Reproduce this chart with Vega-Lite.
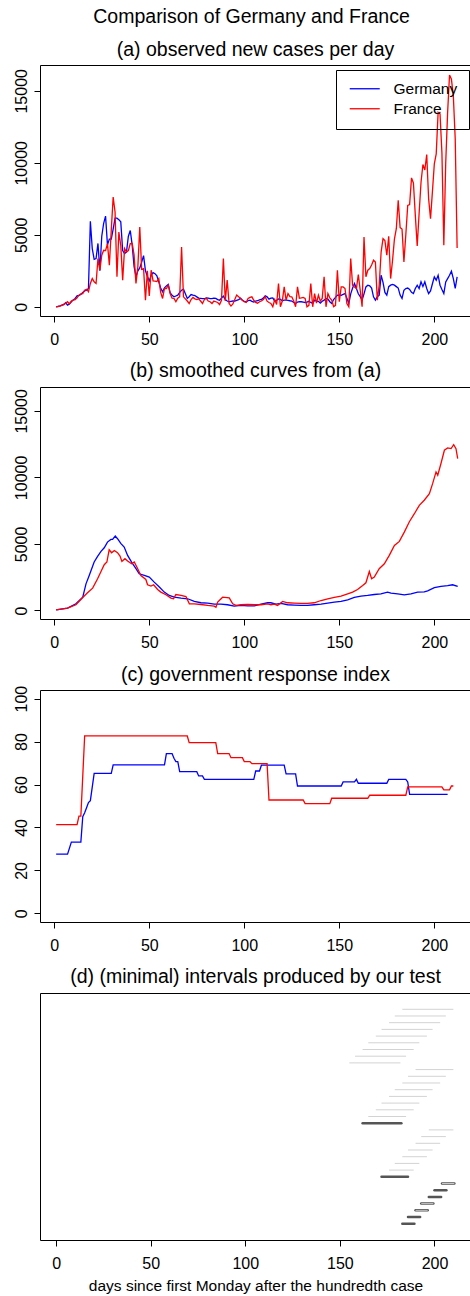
{
"$schema":"https://vega.github.io/schema/vega-lite/v6.json",
"padding":{"left":12,"top":6,"right":0,"bottom":0},
"title":{"text":"Comparison of Germany and France","anchor":"middle","frame":"group","offset":12,"dx":-4},
"bounds":"flush",
"spacing":71,
"config":{
 "font":"Liberation Sans",
 "view":{"stroke":"black","strokeWidth":1},
 "axis":{"domain":false,"grid":false,"tickColor":"black","tickSize":6,"tickWidth":1,"labelColor":"black","labelFontSize":16,"labelFont":"Liberation Sans","labelFlush":false,"labelOverlap":false,"titleFont":"Liberation Sans","titleFontWeight":"normal","titleColor":"black"},
 "axisY":{"labelAngle":-90,"labelAlign":"center","labelBaseline":"bottom","labelPadding":5},
 "axisX":{"labelPadding":9},
 "title":{"font":"Liberation Sans","fontSize":19.5,"fontWeight":"normal","color":"black","baseline":"alphabetic","offset":6,"frame":"group"},
 "line":{"strokeWidth":1.3}
},
"datasets":{
"g1":[{"d":1,"v":0},{"d":2,"v":30},{"d":3,"v":60},{"d":4,"v":120},{"d":5,"v":160},{"d":6,"v":280},{"d":7,"v":120},{"d":8,"v":200},{"d":9,"v":350},{"d":10,"v":480},{"d":11,"v":580},{"d":12,"v":760},{"d":13,"v":800},{"d":14,"v":850},{"d":15,"v":1000},{"d":16,"v":1100},{"d":17,"v":1150},{"d":18,"v":1270},{"d":19,"v":5930},{"d":20,"v":4040},{"d":21,"v":3300},{"d":22,"v":3350},{"d":23,"v":4400},{"d":24,"v":2500},{"d":25,"v":4900},{"d":26,"v":5800},{"d":27,"v":6300},{"d":28,"v":4300},{"d":29,"v":4700},{"d":30,"v":4700},{"d":31,"v":5400},{"d":32,"v":6150},{"d":33,"v":6150},{"d":34,"v":6050},{"d":35,"v":5900},{"d":36,"v":3900},{"d":37,"v":3700},{"d":38,"v":3800},{"d":39,"v":4900},{"d":40,"v":5300},{"d":41,"v":4300},{"d":42,"v":2800},{"d":43,"v":2100},{"d":44,"v":2500},{"d":45,"v":2700},{"d":46,"v":3100},{"d":47,"v":3550},{"d":48,"v":2500},{"d":49,"v":2100},{"d":50,"v":1800},{"d":51,"v":2200},{"d":52,"v":2380},{"d":53,"v":2300},{"d":54,"v":2150},{"d":55,"v":1730},{"d":56,"v":1300},{"d":57,"v":1040},{"d":58,"v":1320},{"d":59,"v":1450},{"d":60,"v":1550},{"d":61,"v":970},{"d":62,"v":800},{"d":63,"v":690},{"d":64,"v":750},{"d":65,"v":810},{"d":66,"v":1000},{"d":67,"v":1150},{"d":68,"v":1220},{"d":69,"v":900},{"d":70,"v":580},{"d":71,"v":700},{"d":72,"v":850},{"d":73,"v":810},{"d":74,"v":780},{"d":75,"v":690},{"d":76,"v":600},{"d":77,"v":580},{"d":78,"v":560},{"d":79,"v":560},{"d":80,"v":620},{"d":81,"v":600},{"d":82,"v":560},{"d":83,"v":560},{"d":84,"v":600},{"d":85,"v":580},{"d":86,"v":500},{"d":87,"v":460},{"d":88,"v":600},{"d":89,"v":740},{"d":90,"v":500},{"d":91,"v":400},{"d":92,"v":350},{"d":93,"v":380},{"d":94,"v":400},{"d":95,"v":390},{"d":96,"v":450},{"d":97,"v":500},{"d":98,"v":580},{"d":99,"v":450},{"d":100,"v":380},{"d":101,"v":350},{"d":102,"v":420},{"d":103,"v":460},{"d":104,"v":380},{"d":105,"v":330},{"d":106,"v":400},{"d":107,"v":420},{"d":108,"v":480},{"d":109,"v":510},{"d":110,"v":600},{"d":111,"v":760},{"d":112,"v":690},{"d":113,"v":530},{"d":114,"v":600},{"d":115,"v":620},{"d":116,"v":390},{"d":117,"v":450},{"d":118,"v":550},{"d":119,"v":520},{"d":120,"v":420},{"d":121,"v":460},{"d":122,"v":460},{"d":123,"v":450},{"d":124,"v":420},{"d":125,"v":400},{"d":126,"v":300},{"d":127,"v":230},{"d":128,"v":330},{"d":129,"v":360},{"d":130,"v":350},{"d":131,"v":330},{"d":132,"v":300},{"d":133,"v":330},{"d":134,"v":380},{"d":135,"v":300},{"d":136,"v":240},{"d":137,"v":460},{"d":138,"v":400},{"d":139,"v":380},{"d":140,"v":250},{"d":141,"v":380},{"d":142,"v":460},{"d":143,"v":580},{"d":144,"v":530},{"d":145,"v":350},{"d":146,"v":230},{"d":147,"v":500},{"d":148,"v":650},{"d":149,"v":810},{"d":150,"v":800},{"d":151,"v":800},{"d":152,"v":860},{"d":153,"v":920},{"d":154,"v":600},{"d":155,"v":230},{"d":156,"v":900},{"d":157,"v":1300},{"d":158,"v":1620},{"d":159,"v":1270},{"d":160,"v":900},{"d":161,"v":700},{"d":162,"v":460},{"d":163,"v":900},{"d":164,"v":1380},{"d":165,"v":1500},{"d":166,"v":1450},{"d":167,"v":1300},{"d":168,"v":690},{"d":169,"v":460},{"d":170,"v":700},{"d":171,"v":800},{"d":172,"v":2190},{"d":173,"v":1700},{"d":174,"v":1000},{"d":175,"v":810},{"d":176,"v":1400},{"d":177,"v":1500},{"d":178,"v":1550},{"d":179,"v":1500},{"d":180,"v":1400},{"d":181,"v":1300},{"d":182,"v":810},{"d":183,"v":580},{"d":184,"v":1150},{"d":185,"v":1270},{"d":186,"v":1300},{"d":187,"v":1200},{"d":188,"v":1000},{"d":189,"v":920},{"d":190,"v":1270},{"d":191,"v":1500},{"d":192,"v":1270},{"d":193,"v":1730},{"d":194,"v":1400},{"d":195,"v":1730},{"d":196,"v":1270},{"d":197,"v":920},{"d":198,"v":1100},{"d":199,"v":1600},{"d":200,"v":2080},{"d":201,"v":1850},{"d":202,"v":2190},{"d":203,"v":1500},{"d":204,"v":1200},{"d":205,"v":920},{"d":206,"v":1730},{"d":207,"v":1960},{"d":208,"v":2190},{"d":209,"v":2470},{"d":210,"v":1960},{"d":211,"v":1270},{"d":212,"v":2080}],
"f1":[{"d":1,"v":0},{"d":2,"v":20},{"d":3,"v":50},{"d":4,"v":100},{"d":5,"v":150},{"d":6,"v":250},{"d":7,"v":350},{"d":8,"v":200},{"d":9,"v":400},{"d":10,"v":460},{"d":11,"v":500},{"d":12,"v":620},{"d":13,"v":810},{"d":14,"v":900},{"d":15,"v":920},{"d":16,"v":1150},{"d":17,"v":1220},{"d":18,"v":1040},{"d":19,"v":1620},{"d":20,"v":1960},{"d":21,"v":1730},{"d":22,"v":1620},{"d":23,"v":3350},{"d":24,"v":2540},{"d":25,"v":3580},{"d":26,"v":3920},{"d":27,"v":3900},{"d":28,"v":4390},{"d":29,"v":2890},{"d":30,"v":5310},{"d":31,"v":7620},{"d":32,"v":6580},{"d":33,"v":2080},{"d":34,"v":5190},{"d":35,"v":4270},{"d":36,"v":1850},{"d":37,"v":4040},{"d":38,"v":3800},{"d":39,"v":3900},{"d":40,"v":4390},{"d":41,"v":4400},{"d":42,"v":3600},{"d":43,"v":1620},{"d":44,"v":2800},{"d":45,"v":5540},{"d":46,"v":2600},{"d":47,"v":2650},{"d":48,"v":460},{"d":49,"v":2500},{"d":50,"v":750},{"d":51,"v":2540},{"d":52,"v":1800},{"d":53,"v":1780},{"d":54,"v":1750},{"d":55,"v":1960},{"d":56,"v":1000},{"d":57,"v":580},{"d":58,"v":1270},{"d":59,"v":1270},{"d":60,"v":1500},{"d":61,"v":900},{"d":62,"v":600},{"d":63,"v":580},{"d":64,"v":350},{"d":65,"v":600},{"d":66,"v":700},{"d":67,"v":4150},{"d":68,"v":690},{"d":69,"v":550},{"d":70,"v":400},{"d":71,"v":230},{"d":72,"v":500},{"d":73,"v":650},{"d":74,"v":550},{"d":75,"v":500},{"d":76,"v":550},{"d":77,"v":400},{"d":78,"v":230},{"d":79,"v":500},{"d":80,"v":600},{"d":81,"v":400},{"d":82,"v":350},{"d":83,"v":230},{"d":84,"v":400},{"d":85,"v":350},{"d":86,"v":300},{"d":87,"v":160},{"d":88,"v":450},{"d":89,"v":3350},{"d":90,"v":400},{"d":91,"v":1850},{"d":92,"v":230},{"d":93,"v":50},{"d":94,"v":200},{"d":95,"v":500},{"d":96,"v":810},{"d":97,"v":690},{"d":98,"v":600},{"d":99,"v":450},{"d":100,"v":350},{"d":101,"v":300},{"d":102,"v":580},{"d":103,"v":650},{"d":104,"v":690},{"d":105,"v":450},{"d":106,"v":300},{"d":107,"v":250},{"d":108,"v":350},{"d":109,"v":400},{"d":110,"v":500},{"d":111,"v":700},{"d":112,"v":390},{"d":113,"v":300},{"d":114,"v":230},{"d":115,"v":0},{"d":116,"v":500},{"d":117,"v":160},{"d":118,"v":1620},{"d":119,"v":0},{"d":120,"v":400},{"d":121,"v":1380},{"d":122,"v":460},{"d":123,"v":920},{"d":124,"v":700},{"d":125,"v":690},{"d":126,"v":400},{"d":127,"v":0},{"d":128,"v":1380},{"d":129,"v":600},{"d":130,"v":620},{"d":131,"v":650},{"d":132,"v":580},{"d":133,"v":0},{"d":134,"v":100},{"d":135,"v":1620},{"d":136,"v":0},{"d":137,"v":920},{"d":138,"v":250},{"d":139,"v":810},{"d":140,"v":400},{"d":141,"v":580},{"d":142,"v":2080},{"d":143,"v":0},{"d":144,"v":920},{"d":145,"v":620},{"d":146,"v":460},{"d":147,"v":0},{"d":148,"v":100},{"d":149,"v":2540},{"d":150,"v":350},{"d":151,"v":1380},{"d":152,"v":1380},{"d":153,"v":1270},{"d":154,"v":230},{"d":155,"v":0},{"d":156,"v":3350},{"d":157,"v":1500},{"d":158,"v":1380},{"d":159,"v":1270},{"d":160,"v":2240},{"d":161,"v":1150},{"d":162,"v":0},{"d":163,"v":4850},{"d":164,"v":2080},{"d":165,"v":2540},{"d":166,"v":2650},{"d":167,"v":2900},{"d":168,"v":3230},{"d":169,"v":3100},{"d":170,"v":460},{"d":171,"v":1500},{"d":172,"v":3800},{"d":173,"v":4730},{"d":174,"v":4600},{"d":175,"v":3580},{"d":176,"v":4890},{"d":177,"v":1960},{"d":178,"v":3200},{"d":179,"v":4700},{"d":180,"v":5420},{"d":181,"v":7390},{"d":182,"v":5500},{"d":183,"v":5400},{"d":184,"v":3120},{"d":185,"v":5000},{"d":186,"v":7040},{"d":187,"v":7100},{"d":188,"v":8950},{"d":189,"v":8600},{"d":190,"v":6350},{"d":191,"v":4220},{"d":192,"v":6500},{"d":193,"v":8650},{"d":194,"v":9880},{"d":195,"v":9500},{"d":196,"v":10570},{"d":197,"v":7500},{"d":198,"v":6120},{"d":199,"v":8000},{"d":200,"v":9920},{"d":201,"v":10620},{"d":202,"v":13500},{"d":203,"v":13400},{"d":204,"v":10700},{"d":205,"v":4270},{"d":206,"v":10000},{"d":207,"v":13500},{"d":208,"v":16090},{"d":209,"v":15810},{"d":210,"v":14650},{"d":211,"v":11660},{"d":212,"v":4080}],
"g2":[{"d":1,"v":50},{"d":7,"v":175},{"d":11.4,"v":500},{"d":15,"v":1000},{"d":16.7,"v":2000},{"d":18.4,"v":2630},{"d":21,"v":3640},{"d":22.8,"v":4060},{"d":24.6,"v":4440},{"d":26.3,"v":4710},{"d":28,"v":5140},{"d":29.8,"v":5340},{"d":30.7,"v":5340},{"d":32.1,"v":5590},{"d":33.3,"v":5390},{"d":35.1,"v":5020},{"d":36.8,"v":4770},{"d":38.6,"v":4140},{"d":40.7,"v":3640},{"d":43,"v":3140},{"d":44.7,"v":2760},{"d":47.4,"v":2630},{"d":50,"v":2510},{"d":52.6,"v":2130},{"d":55.3,"v":1760},{"d":57.9,"v":1380},{"d":60.5,"v":1130},{"d":63.2,"v":1000},{"d":66.7,"v":930},{"d":70.2,"v":880},{"d":73.7,"v":680},{"d":77.2,"v":580},{"d":80.7,"v":550},{"d":84.2,"v":480},{"d":87.7,"v":480},{"d":91.2,"v":430},{"d":94.7,"v":330},{"d":98.2,"v":380},{"d":101.8,"v":350},{"d":105.3,"v":350},{"d":108.8,"v":480},{"d":112.3,"v":580},{"d":114,"v":580},{"d":116.7,"v":480},{"d":119.3,"v":530},{"d":122.8,"v":430},{"d":126.3,"v":400},{"d":129.8,"v":380},{"d":133.3,"v":380},{"d":136.8,"v":430},{"d":140.4,"v":480},{"d":143.9,"v":550},{"d":147.4,"v":630},{"d":150.9,"v":680},{"d":154.4,"v":800},{"d":157.9,"v":980},{"d":161.4,"v":1080},{"d":164.9,"v":1130},{"d":168.4,"v":1200},{"d":171.9,"v":1250},{"d":175.4,"v":1380},{"d":177.2,"v":1300},{"d":180.7,"v":1250},{"d":184.2,"v":1180},{"d":187.7,"v":1250},{"d":191.2,"v":1380},{"d":194.7,"v":1400},{"d":196.5,"v":1480},{"d":200,"v":1710},{"d":203.5,"v":1810},{"d":207,"v":1860},{"d":209.6,"v":1930},{"d":212.3,"v":1810}],
"f2":[{"d":1,"v":50},{"d":7,"v":175},{"d":11.4,"v":430},{"d":15,"v":980},{"d":17.5,"v":1330},{"d":20.2,"v":1680},{"d":22.8,"v":2380},{"d":24.6,"v":2930},{"d":26.3,"v":3440},{"d":27.7,"v":3640},{"d":28.9,"v":4560},{"d":30.2,"v":4340},{"d":31.6,"v":4510},{"d":33.3,"v":4340},{"d":34.6,"v":4090},{"d":35.6,"v":3690},{"d":37.2,"v":3890},{"d":38.6,"v":3710},{"d":40.7,"v":3510},{"d":42.1,"v":3640},{"d":43.9,"v":3140},{"d":45.6,"v":2630},{"d":48.2,"v":2330},{"d":49.1,"v":1930},{"d":50.9,"v":1830},{"d":52.3,"v":1930},{"d":54.4,"v":1580},{"d":56.1,"v":1380},{"d":58.8,"v":1180},{"d":61.4,"v":930},{"d":62.8,"v":880},{"d":64,"v":1200},{"d":66.7,"v":1130},{"d":69.3,"v":1050},{"d":71.1,"v":500},{"d":73.7,"v":500},{"d":77.2,"v":450},{"d":80.7,"v":380},{"d":84.2,"v":330},{"d":85.1,"v":250},{"d":86,"v":630},{"d":88.6,"v":1000},{"d":92.1,"v":950},{"d":93.9,"v":500},{"d":95.6,"v":380},{"d":98.2,"v":430},{"d":101.8,"v":450},{"d":105.3,"v":430},{"d":108.8,"v":430},{"d":112.3,"v":500},{"d":114,"v":430},{"d":115.8,"v":480},{"d":117.5,"v":380},{"d":120.2,"v":680},{"d":122.8,"v":580},{"d":126.3,"v":550},{"d":129.8,"v":530},{"d":133.3,"v":530},{"d":136.8,"v":580},{"d":140.4,"v":750},{"d":143.9,"v":880},{"d":147.4,"v":980},{"d":150.9,"v":1080},{"d":154.4,"v":1250},{"d":157,"v":1380},{"d":159.6,"v":1580},{"d":162.3,"v":1880},{"d":164,"v":2080},{"d":165.8,"v":2930},{"d":167,"v":2380},{"d":168.4,"v":2510},{"d":171,"v":3140},{"d":173.7,"v":3510},{"d":176.3,"v":4140},{"d":179,"v":4890},{"d":181.6,"v":5190},{"d":184.2,"v":5890},{"d":186.8,"v":6650},{"d":189.5,"v":7270},{"d":192.1,"v":7900},{"d":194.7,"v":8280},{"d":197.4,"v":8780},{"d":199.1,"v":9530},{"d":200.9,"v":10410},{"d":201.8,"v":10160},{"d":203.5,"v":11040},{"d":205.3,"v":12040},{"d":207,"v":12210},{"d":208.8,"v":12160},{"d":210.2,"v":12460},{"d":211.4,"v":12160},{"d":212.3,"v":11410}],
"g3":[{"d":1,"v":27.6},{"d":7,"v":27.6},{"d":9,"v":33.2},{"d":14,"v":33.2},{"d":15,"v":45},{"d":16,"v":46.9},{"d":17,"v":49.2},{"d":18,"v":51.6},{"d":19,"v":52.5},{"d":21,"v":65.2},{"d":30,"v":65.2},{"d":31,"v":69.1},{"d":58,"v":69.1},{"d":59,"v":74.4},{"d":62,"v":74.4},{"d":63,"v":72.2},{"d":64,"v":70.7},{"d":65,"v":70.7},{"d":66,"v":66},{"d":75,"v":66},{"d":76,"v":64},{"d":78,"v":64},{"d":79,"v":62.4},{"d":105,"v":62.4},{"d":106,"v":66.3},{"d":108,"v":66.3},{"d":109,"v":69},{"d":121,"v":69},{"d":122,"v":65},{"d":127,"v":65},{"d":128,"v":59.3},{"d":151,"v":59.3},{"d":152,"v":61.2},{"d":158,"v":61.2},{"d":159,"v":62.4},{"d":160,"v":60.6},{"d":175,"v":60.6},{"d":176,"v":62.4},{"d":185,"v":62.4},{"d":186,"v":61.2},{"d":187,"v":55.4},{"d":207,"v":55.4}],
"f3":[{"d":1,"v":41.3},{"d":12,"v":41.3},{"d":13,"v":45.3},{"d":14,"v":45.3},{"d":16,"v":82.6},{"d":70,"v":82.6},{"d":71,"v":79.5},{"d":85,"v":79.5},{"d":86,"v":74.4},{"d":92,"v":74.4},{"d":93,"v":72.5},{"d":99,"v":72.5},{"d":100,"v":70.7},{"d":103,"v":70.7},{"d":104,"v":69.7},{"d":112,"v":69.7},{"d":113,"v":52.8},{"d":131,"v":52.8},{"d":132,"v":51.1},{"d":145,"v":51.1},{"d":146,"v":53.6},{"d":165,"v":53.6},{"d":166,"v":55},{"d":185,"v":55},{"d":186,"v":58.9},{"d":204,"v":58.9},{"d":205,"v":57.5},{"d":208,"v":57.5},{"d":209,"v":59.3},{"d":210,"v":59.3}],
"iv":[{"r":1,"a":183,"b":210,"t":"l"},{"r":2,"a":179,"b":206,"t":"l"},{"r":3,"a":176,"b":203,"t":"l"},{"r":4,"a":172,"b":199,"t":"l"},{"r":5,"a":169,"b":196,"t":"l"},{"r":6,"a":165,"b":192,"t":"l"},{"r":7,"a":162,"b":189,"t":"l"},{"r":8,"a":158,"b":185,"t":"l"},{"r":9,"a":155,"b":182,"t":"l"},{"r":10,"a":190,"b":210,"t":"l"},{"r":11,"a":186,"b":206,"t":"l"},{"r":12,"a":183,"b":203,"t":"l"},{"r":13,"a":179,"b":199,"t":"l"},{"r":14,"a":176,"b":196,"t":"l"},{"r":15,"a":172,"b":192,"t":"l"},{"r":16,"a":169,"b":189,"t":"l"},{"r":17,"a":165,"b":185,"t":"l"},{"r":18,"a":162,"b":182.5,"t":"d"},{"r":19,"a":197,"b":210,"t":"l"},{"r":20,"a":193,"b":206,"t":"l"},{"r":21,"a":190,"b":203,"t":"l"},{"r":22,"a":186,"b":199,"t":"l"},{"r":23,"a":183,"b":196,"t":"l"},{"r":24,"a":179,"b":192,"t":"l"},{"r":25,"a":176,"b":189,"t":"l"},{"r":26,"a":172,"b":186,"t":"d"},{"r":27,"a":204,"b":210.5,"t":"c"},{"r":28,"a":200,"b":206.3,"t":"d"},{"r":29,"a":197,"b":203.5,"t":"d"},{"r":30,"a":193,"b":199.4,"t":"c"},{"r":31,"a":190,"b":196.4,"t":"c"},{"r":32,"a":186,"b":192.4,"t":"d"},{"r":33,"a":183,"b":189.4,"t":"d"}]
},
"vconcat":[
{
 "width":431,"height":251,
 "title":{"text":"(a) observed new cases per day","offset":5},
 "encoding":{
  "x":{"field":"d","type":"quantitative","scale":{"domain":[-7.5,219.3],"nice":false,"zero":false},"axis":{"values":[0,50,100,150,200],"title":null}},
  "y":{"field":"v","type":"quantitative","scale":{"domain":[-640,16790],"nice":false,"zero":false},"axis":{"values":[0,5000,10000,15000],"format":"d","title":null}}
 },
 "layer":[
  {"data":{"name":"g1"},"mark":{"type":"line"},"encoding":{"color":{"datum":"Germany","type":"nominal","scale":{"domain":["Germany","France"],"range":["#0000ff","#ff0000"]},"legend":{"title":null,"orient":"none","legendX":296,"legendY":5,"strokeColor":"black","padding":11,"symbolType":"M-3,0H3","symbolSize":100,"symbolOffset":10,"labelOffset":21,"labelFontSize":15.5,"labelColor":"black","rowPadding":3,"symbolStrokeWidth":1.3,"cornerRadius":0}}}},
  {"data":{"name":"f1"},"mark":{"type":"line"},"encoding":{"color":{"datum":"France","type":"nominal"}}}
 ]
},
{
 "width":431,"height":232,
 "title":{"text":"(b) smoothed curves from (a)"},
 "encoding":{
  "x":{"field":"d","type":"quantitative","scale":{"domain":[-7.5,219.3],"nice":false,"zero":false},"axis":{"values":[0,50,100,150,200],"title":null}},
  "y":{"field":"v","type":"quantitative","scale":{"domain":[-640,16790],"nice":false,"zero":false},"axis":{"values":[0,5000,10000,15000],"format":"d","title":null}}
 },
 "layer":[
  {"data":{"name":"g2"},"mark":{"type":"line","color":"#0000ff"}},
  {"data":{"name":"f2"},"mark":{"type":"line","color":"#ff0000"}}
 ]
},
{
 "width":431,"height":232,
 "title":{"text":"(c) government response index","offset":0},
 "encoding":{
  "x":{"field":"d","type":"quantitative","scale":{"domain":[-7.5,219.3],"nice":false,"zero":false},"axis":{"values":[0,50,100,150,200],"title":null}},
  "y":{"field":"v","type":"quantitative","scale":{"domain":[-4,104],"nice":false,"zero":false},"axis":{"values":[0,20,40,60,80,100],"format":"d","title":null}}
 },
 "layer":[
  {"data":{"name":"g3"},"mark":{"type":"line","color":"#0000ff"}},
  {"data":{"name":"f3"},"mark":{"type":"line","color":"#ff0000"}}
 ]
},
{
 "width":431,"height":247,
 "title":{"text":"(d) (minimal) intervals produced by our test"},
 "data":{"name":"iv"},
 "encoding":{
  "x":{"field":"a","type":"quantitative","scale":{"domain":[-8.5,219.3],"nice":false,"zero":false},"axis":{"values":[0,50,100,150,200],"title":"days since first Monday after the hundredth case","titleFontSize":15.5,"titlePadding":7}},
  "x2":{"field":"b"},
  "y":{"field":"r","type":"quantitative","scale":{"domain":[-1.43,35.43],"reverse":true,"nice":false,"zero":false},"axis":null}
 },
 "layer":[
  {"transform":[{"filter":"datum.t=='l'"}],"mark":{"type":"rule","color":"#d3d3d3","strokeWidth":1}},
  {"transform":[{"filter":"datum.t!='l'"}],"mark":{"type":"rule","color":"#555555","strokeWidth":2.5,"strokeCap":"round"}},
  {"transform":[{"filter":"datum.t=='c'"}],"mark":{"type":"rule","color":"#c8c8c8","strokeWidth":1}}
 ]
}
]
}
